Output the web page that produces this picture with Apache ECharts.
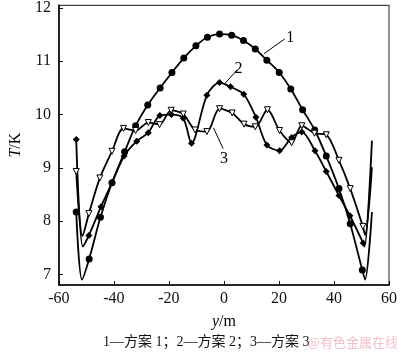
<!DOCTYPE html>
<html>
<head>
<meta charset="utf-8">
<script src="https://cdn.jsdelivr.net/npm/echarts@6/dist/echarts.min.js"></script>
<style>
  html, body { margin: 0; padding: 0; background: #fff; }
  #myChart { width: 400px; height: 355px; }
</style>
</head>
<body>
<div id="myChart"></div>
<script>
// 方案 1 (filled circles)
var scheme1X = [-53.7, -51.6, -49.0, -44.9, -40.7, -36.1, -32.1, -27.7, -23.2, -18.9, -14.6, -10.2, -6.0, -1.6, 2.8, 7.1, 11.4, 15.6, 20.1, 24.3, 28.6, 33.0, 37.2, 41.8, 45.9, 50.3, 51.3, 53.8]
var scheme1Y = [8.17, 6.90, 7.29, 8.07, 8.72, 9.30, 9.79, 10.18, 10.50, 10.79, 11.06, 11.29, 11.45, 11.51, 11.49, 11.39, 11.23, 11.02, 10.79, 10.48, 10.09, 9.71, 9.22, 8.61, 7.95, 7.08, 6.90, 8.17]
// 方案 2 (filled diamonds)
var scheme2X = [-53.7, -51.3, -49.1, -44.7, -40.7, -36.3, -31.7, -27.5, -23.3, -19.1, -14.8, -11.8, -6.2, -1.6, 2.4, 7.2, 11.6, 15.6, 20.2, 24.6, 28.3, 33.1, 37.2, 41.8, 45.8, 50.6, 51.1, 53.8]
var scheme2Y = [9.53, 7.52, 7.73, 8.27, 8.72, 9.22, 9.50, 9.66, 9.98, 10.00, 9.93, 9.46, 10.36, 10.60, 10.52, 10.38, 9.95, 9.43, 9.32, 9.57, 9.67, 9.32, 8.93, 8.48, 8.10, 7.59, 7.52, 9.51]
// 方案 3 (open triangles)
var scheme3X = [-53.7, -51.4, -49.1, -45.1, -40.7, -36.5, -32.1, -27.5, -23.4, -19.2, -14.8, -10.5, -6.2, -1.6, 3.0, 7.3, 11.4, 15.8, 20.2, 24.6, 28.3, 32.9, 37.2, 41.8, 45.9, 50.5, 51.3, 53.8]
var scheme3Y = [8.93, 7.72, 8.14, 8.81, 9.31, 9.74, 9.70, 9.85, 9.81, 10.08, 10.01, 9.71, 9.68, 10.11, 10.03, 9.82, 9.77, 10.09, 9.70, 9.47, 9.79, 9.65, 9.62, 9.14, 8.61, 7.90, 7.74, 9.01]

var xTicks = [-60, -40, -20, 0, 20, 40, 60]
var yTicks = [7, 8, 9, 10, 11, 12]
var caption = '1—方案 1；2—方案 2；3—方案 3'

var serif = 'Liberation Serif, Noto Sans CJK SC'

// the dip and the right end of each curve carry no marker
function buildData (xs, ys) {
  return xs.map(function (x, i) {
    var item = { value: [x, ys[i]] }
    if (i === 1 || i >= xs.length - 2) item.symbol = 'none'
    return item
  })
}

function leader (from, to, text) {
  return {
    silent: true,
    symbol: 'none',
    lineStyle: { color: '#000', width: 1, type: 'solid' },
    label: { show: true, position: 'end', formatter: text, color: '#000', fontSize: 16, fontFamily: serif, distance: 2 },
    data: [[{ coord: from }, { coord: to }]]
  }
}

var myChart = echarts.init(document.getElementById('myChart'))
var option = {
  animation: false,
  grid: {
    left: 44,
    right: 8,
    top: 5,
    bottom: 70,
    show: true,
    borderColor: '#444',
    borderWidth: 1.2
  },
  xAxis: {
    type: 'value',
    min: -60,
    max: 60,
    interval: 20,
    name: '{i|y}/m',
    nameLocation: 'middle',
    nameGap: 29,
    nameTextStyle: {
      color: '#000',
      fontSize: 16,
      fontFamily: serif,
      rich: { i: { fontStyle: 'italic', fontSize: 16, fontFamily: serif } }
    },
    axisLine: { onZero: false, lineStyle: { color: '#000', width: 1.5 } },
    axisTick: { inside: true, length: 4, lineStyle: { color: '#000' } },
    axisLabel: {
      color: '#111',
      fontSize: 16,
      fontFamily: serif,
      margin: 6,
      formatter: function (v) { return xTicks.indexOf(v) >= 0 ? String(v) : '' }
    },
    splitLine: { show: false }
  },
  yAxis: {
    type: 'value',
    min: 6.8,
    max: 12.05,
    name: '{i|T}/K',
    nameLocation: 'middle',
    nameRotate: 90,
    nameGap: 20,
    nameTextStyle: {
      color: '#000',
      fontSize: 16,
      fontFamily: serif,
      rich: { i: { fontStyle: 'italic', fontSize: 16, fontFamily: serif } }
    },
    axisLine: { show: true, onZero: false, lineStyle: { color: '#000', width: 1.5 } },
    axisTick: { show: true, inside: true, length: 4, customValues: yTicks, lineStyle: { color: '#000' } },
    axisLabel: { color: '#111', fontSize: 16, fontFamily: serif, margin: 8, customValues: yTicks },
    splitLine: { show: false }
  },
  graphic: [
    {
      type: 'text',
      left: 103,
      top: 335,
      style: { text: caption, fill: '#111', font: '14px ' + serif }
    },
    {
      type: 'text',
      right: 2,
      top: 336,
      style: { text: '@有色金属在线', fill: 'rgba(235,150,160,0.6)', font: '13px Noto Sans CJK SC' }
    }
  ],
  series: [
    {
      name: '方案 1',
      type: 'line',
      data: buildData(scheme1X, scheme1Y),
      smooth: 0.3,
      symbol: 'circle',
      symbolSize: 7,
      itemStyle: { color: '#000' },
      lineStyle: { color: '#000', width: 1.8 },
      markLine: leader([14.5, 11.14], [22.1, 11.42], '1')
    },
    {
      name: '方案 2',
      type: 'line',
      data: buildData(scheme2X, scheme2Y),
      smooth: 0.3,
      symbol: 'diamond',
      symbolSize: 7,
      itemStyle: { color: '#000' },
      lineStyle: { color: '#000', width: 1.8 },
      markLine: leader([0.3, 10.58], [4.8, 10.84], '2')
    },
    {
      name: '方案 3',
      type: 'line',
      data: buildData(scheme3X, scheme3Y),
      smooth: 0.3,
      symbol: 'triangle',
      symbolRotate: 180,
      symbolSize: 6,
      itemStyle: { color: '#fff', borderColor: '#000', borderWidth: 1 },
      lineStyle: { color: '#000', width: 1.8 },
      markLine: leader([-3.8, 9.75], [-0.3, 9.36], '3')
    }
  ]
}
myChart.setOption(option, true)
</script>
</body>
</html>
